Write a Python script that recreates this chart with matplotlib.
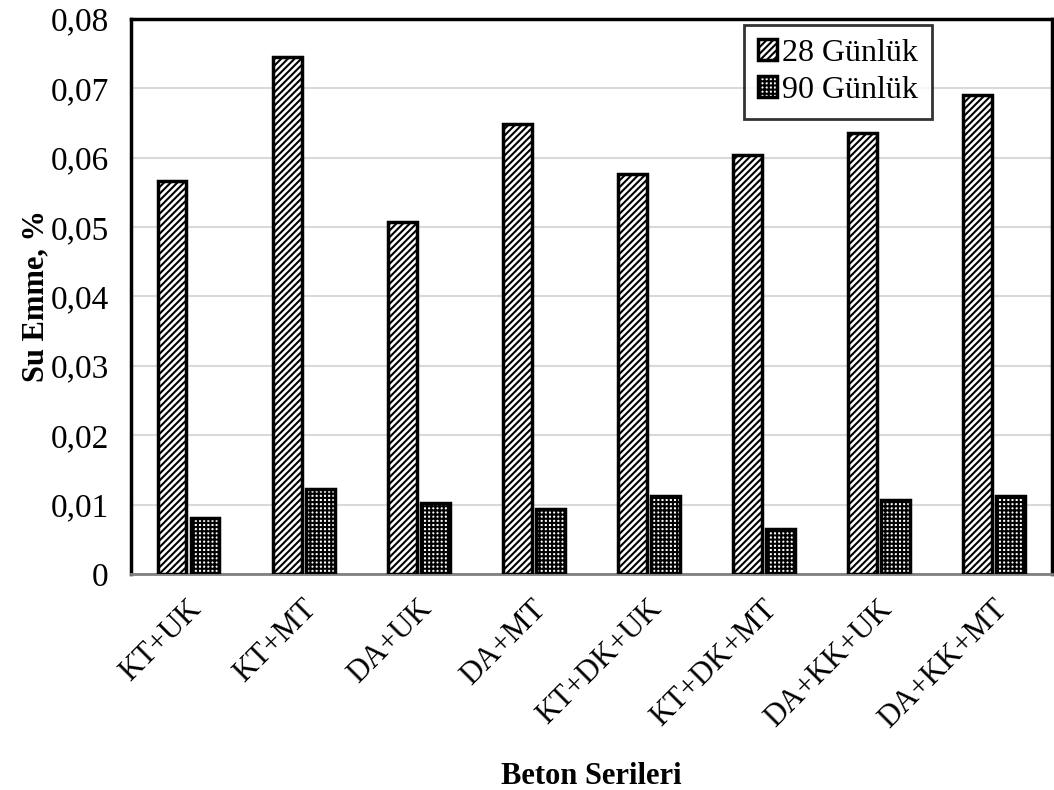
import matplotlib
matplotlib.use("Agg")
import matplotlib.pyplot as plt
import numpy as np

series = ["KT+UK", "KT+MT", "DA+UK", "DA+MT", "KT+DK+UK", "KT+DK+MT", "DA+KK+UK", "DA+KK+MT"]
gun28 = [0.0566, 0.0745, 0.0508, 0.0648, 0.0576, 0.0604, 0.0636, 0.0690]
gun90 = [0.0081, 0.0123, 0.0103, 0.0093, 0.0113, 0.0065, 0.0106, 0.0113]
yticks = [0, 0.01, 0.02, 0.03, 0.04, 0.05, 0.06, 0.07, 0.08]
ytick_labels = ["0", "0,01", "0,02", "0,03", "0,04", "0,05", "0,06", "0,07", "0,08"]

plt.rcParams['font.family'] = ['Liberation Serif', 'DejaVu Serif']
plt.rcParams['hatch.linewidth'] = 1.5

fig = plt.figure(figsize=(10.54, 7.9), dpi=100)
ax = fig.add_axes([0.1243, 0.2734, 0.8737, 0.7026])

x = np.arange(len(series))
w = 0.25
ax.bar(x - 0.143, gun28, w, facecolor='white', edgecolor='black', linewidth=2.5,
       hatch='/////', label='28 Günlük', zorder=3)
ax.bar(x + 0.143, gun90, w, facecolor='white', edgecolor='black', linewidth=2.5,
       hatch='++++', label='90 Günlük', zorder=3)

ax.set_xlim(-0.5, len(series) - 0.5)
ax.set_ylim(0, 0.08)
ax.set_yticks(yticks)
ax.set_yticklabels(ytick_labels, fontsize=24)
ax.yaxis.grid(True, color='#d9d9d9', linewidth=1.5, zorder=0)
ax.set_axisbelow(True)

ax.set_xticks(x + 0.07)
ax.set_xticklabels(series, fontsize=22, rotation=45, ha='right', va='center',
                   rotation_mode='anchor')
ax.tick_params(axis='x', length=0, pad=22)
ax.tick_params(axis='y', length=0, pad=16)

for s in ['left', 'top', 'right']:
    ax.spines[s].set_color('black')
    ax.spines[s].set_linewidth(2.5)
ax.spines['bottom'].set_color('#808080')
ax.spines['bottom'].set_linewidth(2)

ax.set_ylabel('Su Emme, %', fontsize=22, fontweight='bold', labelpad=0)
ax.set_xlabel('Beton Serileri', fontsize=22, fontweight='bold', labelpad=20)

leg = ax.legend(loc='upper right', bbox_to_anchor=(0.87, 0.99), borderaxespad=0,
                fontsize=23, frameon=True, fancybox=False, edgecolor='black',
                handlelength=0.6, handleheight=0.6, handletextpad=0.15,
                borderpad=0.45, labelspacing=0.25)
leg.get_frame().set_linewidth(2)

fig.savefig("out.png", dpi=100)
